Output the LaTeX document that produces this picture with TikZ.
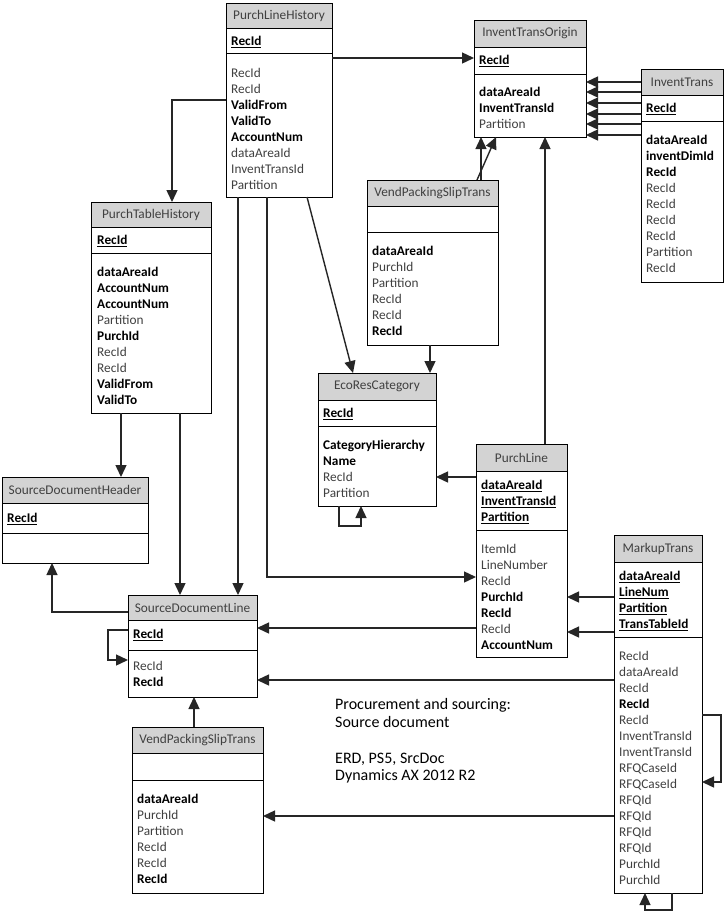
\documentclass[tikz,border=0pt]{standalone}
\usepackage{fontspec}
\setmainfont{Carlito}
\usetikzlibrary{arrows.meta,fit}
\definecolor{hdrgray}{HTML}{D3D3D3}
\definecolor{txtgray}{HTML}{404040}
\definecolor{linecol}{HTML}{262626}
\newcommand{\B}[1]{\textcolor{black}{\textbf{#1}}}
\newcommand{\K}[1]{\textcolor{black}{\underline{\textbf{#1}}}}
\tikzset{
  tblbox/.style={draw=black, line width=0.9pt, inner sep=0pt, outer sep=0pt},
  tblhead/.style={draw=black, fill=hdrgray, line width=0.9pt, inner sep=0pt, outer sep=0pt},
  titletext/.style={text=txtgray, inner sep=0pt, font=\fontsize{13.3}{16}\selectfont},
  cell/.style={text=txtgray, inner sep=0pt, anchor=base west, font=\fontsize{13.3}{16}\selectfont},
  notetext/.style={text=black, inner sep=0pt, anchor=base west, font=\fontsize{16}{18}\selectfont},
  sepline/.style={draw=black, line width=0.9pt},
  arr/.style={draw=linecol, line width=1.4pt, -{Triangle[length=12pt,width=11pt]}},
}
% name, x1, y1, x2, y2, header bottom, separator, title
\newcommand{\ent}[8]{%
  \node[tblhead, fit={(#2,#3)(#4,#6)}] (#1-h) {};
  \node[tblbox, fit={(#2,#3)(#4,#5)}] (#1) {};
  \node[titletext] (#1-t) at (#1-h.center) {#8};
  \draw[sepline] (#2,#7) -- (#4,#7);
}
% name prefix, x, centre y of first line, list
\newcommand{\rows}[4]{%
  \foreach \t [count=\i from 0] in {#4}
    \node[cell] (#1-\i) at ({#2},{#3+4.5+16*\i}) {\t};
}
\begin{document}
\begin{tikzpicture}[x=1pt,y=-1pt]
\fill[white] (0,0) rectangle (725,914);
\useasboundingbox (0,0) rectangle (725,914);

% PurchLineHistory
\ent{PLH}{226}{3}{332}{197}{28}{53}{PurchLineHistory}
\rows{PLHk}{231}{41}{\K{RecId}}
\rows{PLHb}{231}{73}{RecId,RecId,\B{ValidFrom},\B{ValidTo},\B{AccountNum},dataAreaId,InventTransId,Partition}

% InventTransOrigin
\ent{ITO}{474}{20}{586}{137}{47}{74}{InventTransOrigin}
\rows{ITOk}{479}{60}{\K{RecId}}
\rows{ITOb}{479}{92}{\B{dataAreaId},\B{InventTransId},Partition}

% InventTrans
\ent{IT}{641}{69}{723}{282}{95}{121}{InventTrans}
\rows{ITk}{646}{108}{\K{RecId}}
\rows{ITb}{646}{140}{\B{dataAreaId},\B{inventDimId},\B{RecId},RecId,RecId,RecId,RecId,Partition,RecId}

% PurchTableHistory
\ent{PTH}{91}{202}{211}{413}{227}{253}{PurchTableHistory}
\rows{PTHk}{97}{240}{\K{RecId}}
\rows{PTHb}{97}{272}{\B{dataAreaId},\B{AccountNum},\B{AccountNum},Partition,\B{PurchId},RecId,RecId,\B{ValidFrom},\B{ValidTo}}

% VendPackingSlipTrans (upper)
\ent{VPSa}{367}{180}{498}{345}{206}{232}{VendPackingSlipTrans}
\rows{VPSab}{372}{251}{\B{dataAreaId},PurchId,Partition,RecId,RecId,\B{RecId}}

% EcoResCategory
\ent{ERC}{318}{373}{436}{506}{400}{426}{EcoResCategory}
\rows{ERCk}{323}{413}{\K{RecId}}
\rows{ERCb}{323}{445}{\B{CategoryHierarchy},\B{Name},RecId,Partition}

% PurchLine
\ent{PL}{476}{444}{567}{657}{471}{530}{PurchLine}
\rows{PLk}{481}{485}{\K{dataAreaId},\K{InventTransId},\K{Partition}}
\rows{PLb}{481}{549}{ItemId,LineNumber,RecId,\B{PurchId},\B{RecId},RecId,\B{AccountNum}}

% SourceDocumentHeader
\ent{SDH}{2}{477}{148}{563}{503}{533}{SourceDocumentHeader}
\rows{SDHk}{7}{518}{\K{RecId}}

% SourceDocumentLine
\ent{SDL}{128}{595}{257}{697}{620}{650}{SourceDocumentLine}
\rows{SDLk}{133}{634}{\K{RecId}}
\rows{SDLb}{133}{666}{RecId,\B{RecId}}

% MarkupTrans
\ent{MT}{614}{535}{702}{893}{562}{637}{MarkupTrans}
\rows{MTk}{619}{576}{\K{dataAreaId},\K{LineNum},\K{Partition},\K{TransTableId}}
\rows{MTb}{619}{656}{RecId,dataAreaId,RecId,\B{RecId},RecId,InventTransId,InventTransId,RFQCaseId,RFQCaseId,RFQId,RFQId,RFQId,RFQId,PurchId,PurchId}

% VendPackingSlipTrans (lower)
\ent{VPSb}{132}{727}{263}{893}{753}{780}{VendPackingSlipTrans}
\rows{VPSbb}{137}{799}{\B{dataAreaId},PurchId,Partition,RecId,RecId,\B{RecId}}

% note
\node[notetext] (note1) at (335,709) {Procurement and sourcing:};
\node[notetext] (note2) at (335,727) {Source document};
\node[notetext] (note3) at (335,763) {ERD, PS5, SrcDoc};
\node[notetext] (note4) at (335,780) {Dynamics AX 2012 R2};

% connectors
\draw[arr] (PLH.east |- 0,58) -- (ITO.west |- 0,58);
\foreach \yy in {82,92,103,114,124,135}
  \draw[arr] (IT.west |- 0,\yy) -- (ITO.east |- 0,\yy);
\draw[arr] (VPSa.north -| 481,0) -- (ITO.south -| 481,0);
\draw[arr] (VPSa.north -| 477,0) -- (ITO.south -| 496,0);
\draw[arr] (PL.north -| 545,0) -- (ITO.south -| 545,0);
\draw[arr] (PLH.west |- 0,100) -| (PTH.north -| 172,0);
\draw[arr] (PLH.south -| 307,0) -- (ERC.north -| 353,0);
\draw[arr] (VPSa.south -| 430,0) -- (ERC.north -| 430,0);
\draw[arr] (ERC.south -| 339,0) -- ++(0,20) -| (ERC.south -| 361,0);
\draw[arr] (PL.west |- 0,477) -- (ERC.east |- 0,477);
\draw[arr] (PLH.south -| 238,0) -- (SDL.north -| 238,0);
\draw[arr] (PLH.south -| 267,0) |- (PL.west |- 0,577);
\draw[arr] (PTH.south -| 121,0) -- (SDH.north -| 121,0);
\draw[arr] (PTH.south -| 180,0) -- (SDL.north -| 180,0);
\draw[arr] (SDL.west |- 0,612) -| (SDH.south -| 52,0);
\draw[arr] (SDL.west |- 0,630) -- ++(-20,0) |- (SDL.west |- 0,660);
\draw[arr] (PL.west |- 0,628) -- (SDL.east |- 0,628);
\draw[arr] (MT.west |- 0,680) -- (SDL.east |- 0,680);
\draw[arr] (MT.west |- 0,597) -- (PL.east |- 0,597);
\draw[arr] (MT.west |- 0,632) -- (PL.east |- 0,632);
\draw[arr] (MT.east |- 0,715) -- ++(19,0) |- (MT.east |- 0,782);
\draw[arr] (MT.south -| 672,0) -- ++(0,17) -| (MT.south -| 645,0);
\draw[arr] (MT.west |- 0,816) -- (VPSb.east |- 0,816);
\draw[arr] (VPSb.north -| 194,0) -- (SDL.south -| 194,0);
\end{tikzpicture}
\end{document}
